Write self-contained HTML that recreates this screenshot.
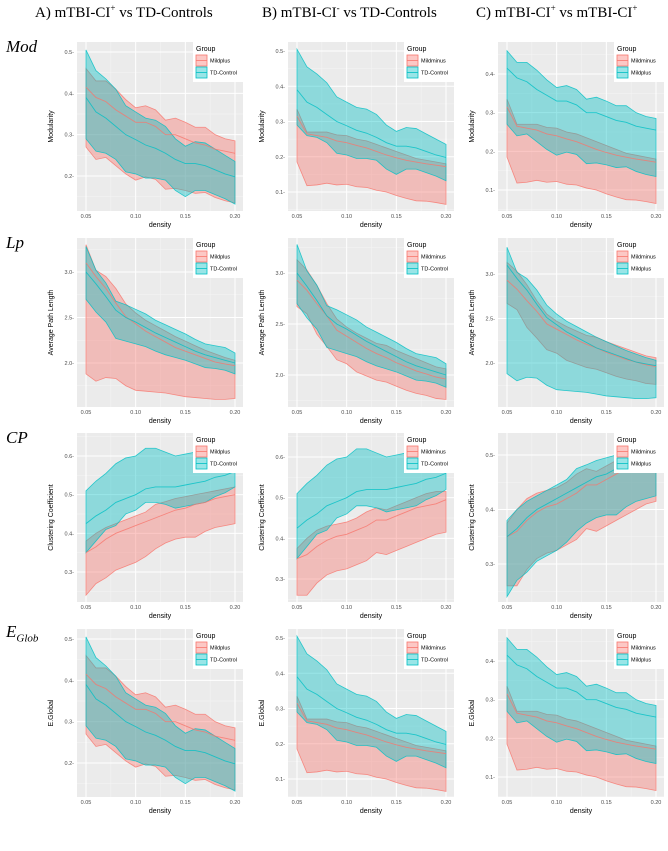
<!DOCTYPE html>
<html><head><meta charset="utf-8">
<style>
body{margin:0;background:#fff;width:668px;height:851px;overflow:hidden;font-family:"Liberation Sans",sans-serif;}
.hd{position:absolute;top:3px;font-family:"Liberation Serif",serif;font-size:15px;color:#000;white-space:nowrap}
.rl{position:absolute;left:6px;font-family:"Liberation Serif",serif;font-style:italic;font-size:17px;color:#000}
svg{position:absolute;left:0;top:0}
</style></head><body>
<div class="hd" style="left:35px">A) mTBI-CI<sup style="font-size:9px">+</sup> vs TD-Controls</div>
<div class="hd" style="left:262px">B) mTBI-CI<sup style="font-size:9px">-</sup> vs TD-Controls</div>
<div class="hd" style="left:476px">C) mTBI-CI<sup style="font-size:9px">+</sup> vs mTBI-CI<sup style="font-size:9px">+</sup></div>
<div class="rl" style="top:37px">Mod</div>
<div class="rl" style="top:233px">Lp</div>
<div class="rl" style="top:428px">CP</div>
<div class="rl" style="top:622px">E<sub style="font-size:11px">Glob</sub></div>
<svg id="fig" width="668" height="851"></svg>
<script>
const densities=[0.05,0.06,0.07,0.08,0.09,0.10,0.11,0.12,0.13,0.14,0.15,0.16,0.17,0.18,0.19,0.20];
const xTicks=[0.05,0.10,0.15,0.20];
const xTickLabels=["0.05","0.10","0.15","0.20"];
// Modularity / E.Global
const modPlusUp=[.46,.43,.43,.41,.385,.365,.37,.36,.335,.34,.33,.318,.318,.30,.29,.285];
const modPlusMean=[.415,.39,.38,.36,.345,.33,.33,.32,.30,.30,.29,.28,.275,.265,.26,.255];
const modPlusLo=[.27,.24,.245,.225,.205,.19,.198,.192,.168,.17,.165,.158,.16,.148,.14,.135];
const modTdUp=[.505,.455,.435,.41,.37,.355,.34,.335,.32,.29,.272,.283,.28,.265,.25,.235];
const modTdMean=[.39,.355,.34,.32,.30,.288,.275,.267,.255,.24,.23,.23,.225,.215,.205,.198];
const modTdLo=[.29,.26,.255,.24,.21,.205,.195,.195,.19,.165,.15,.165,.165,.155,.145,.132];
const modMinUp=[.335,.27,.27,.27,.262,.26,.25,.245,.235,.225,.215,.205,.195,.19,.185,.18];
const modMinMean=[.315,.265,.26,.255,.245,.24,.232,.225,.215,.205,.197,.19,.185,.18,.176,.172];
const modMinLo=[.185,.118,.12,.125,.12,.122,.115,.113,.105,.10,.09,.082,.075,.074,.07,.065];
// Average path length
const lpPlusUp=[3.3,3.02,2.95,2.82,2.65,2.55,2.47,2.41,2.35,2.29,2.24,2.19,2.14,2.10,2.06,2.03];
const lpPlusMean=[3.1,2.95,2.82,2.66,2.51,2.43,2.35,2.29,2.23,2.17,2.13,2.09,2.05,2.01,1.99,1.97];
const lpPlusLo=[1.88,1.80,1.84,1.83,1.75,1.70,1.69,1.68,1.67,1.65,1.63,1.62,1.61,1.60,1.60,1.61];
const lpTdUp=[3.28,3.02,2.88,2.68,2.64,2.59,2.54,2.47,2.42,2.37,2.32,2.26,2.21,2.19,2.17,2.11];
const lpTdMean=[3.0,2.87,2.73,2.58,2.5,2.45,2.39,2.33,2.28,2.23,2.18,2.13,2.09,2.06,2.03,2.0];
const lpTdLo=[2.7,2.56,2.45,2.27,2.24,2.21,2.18,2.13,2.09,2.06,2.03,1.99,1.95,1.94,1.92,1.88];
const lpMinUp=[3.13,3.03,2.88,2.7,2.55,2.47,2.41,2.36,2.31,2.29,2.24,2.2,2.16,2.12,2.08,2.06];
const lpMinMean=[2.93,2.83,2.7,2.58,2.44,2.38,2.32,2.26,2.21,2.17,2.12,2.08,2.04,2.01,1.98,1.96];
const lpMinLo=[2.67,2.6,2.4,2.28,2.15,2.11,2.03,1.99,1.95,1.93,1.89,1.85,1.82,1.8,1.77,1.76];
// Clustering coefficient
const cpPlusUp=[.38,.40,.415,.425,.435,.445,.455,.475,.482,.49,.495,.50,.505,.51,.515,.52];
const cpPlusMean=[.35,.365,.385,.40,.41,.42,.43,.44,.45,.46,.465,.475,.48,.49,.495,.50];
const cpPlusLo=[.24,.27,.285,.305,.315,.325,.34,.36,.375,.385,.39,.39,.405,.415,.42,.425];
const cpTdUp=[.51,.535,.555,.58,.595,.60,.62,.62,.61,.60,.605,.61,.615,.62,.62,.62];
const cpTdMean=[.425,.445,.46,.48,.49,.50,.515,.52,.52,.52,.525,.53,.535,.545,.55,.56];
const cpTdLo=[.35,.38,.41,.42,.45,.46,.48,.48,.475,.465,.47,.475,.48,.495,.505,.52];
const cpMinUp=[.375,.40,.42,.43,.435,.44,.45,.465,.475,.47,.48,.49,.50,.51,.515,.515];
const cpMinMean=[.35,.36,.38,.395,.405,.41,.42,.43,.445,.445,.455,.465,.475,.48,.485,.495];
const cpMinLo=[.26,.26,.29,.31,.32,.325,.335,.345,.365,.36,.37,.38,.39,.40,.41,.415];

const RED="#F8766D",CYAN="#00BFC4";
const colX=[[77,243],[288,454],[498,664]];
const rowY=[[42,211],[238,407],[433,602],[629,797]];
const rowTitles=["Modularity","Average Path Length","Clustering Coefficient","E.Global"];
const legendNames=[["Mildplus","TD-Control"],["Mildminus","TD-Control"],["Mildminus","Mildplus"]];
// y calibration: [v1,py1,v2,py2,ticks]
const yCal=[
 [[.5,52,.2,176,[.2,.3,.4,.5]],[.5,51,.1,192,[.1,.2,.3,.4,.5]],[.4,74,.1,190,[.1,.2,.3,.4]]],
 [[3,272,2,363,[2,2.5,3]],[3,273,2,375,[2,2.5,3]],[3,274,2,363,[2,2.5,3]]],
 [[.6,456,.3,572,[.3,.4,.5,.6]],[.6,457,.3,579,[.3,.4,.5,.6]],[.5,455,.3,564,[.3,.4,.5]]],
 [[.5,639,.2,763,[.2,.3,.4,.5]],[.5,638,.1,779,[.1,.2,.3,.4,.5]],[.4,661,.1,777,[.1,.2,.3,.4]]]
];
const M={up:[modPlusUp,modTdUp,modMinUp],mean:[modPlusMean,modTdMean,modMinMean],lo:[modPlusLo,modTdLo,modMinLo]};
function grp(u,m,l){return {u:u,m:m,l:l};}
const mod={plus:grp(modPlusUp,modPlusMean,modPlusLo),td:grp(modTdUp,modTdMean,modTdLo),min:grp(modMinUp,modMinMean,modMinLo)};
const lp={plus:grp(lpPlusUp,lpPlusMean,lpPlusLo),td:grp(lpTdUp,lpTdMean,lpTdLo),min:grp(lpMinUp,lpMinMean,lpMinLo)};
const cp={plus:grp(cpPlusUp,cpPlusMean,cpPlusLo),td:grp(cpTdUp,cpTdMean,cpTdLo),min:grp(cpMinUp,cpMinMean,cpMinLo)};
const rowData=[mod,lp,cp,mod];
const colGroups=[["plus","td"],["min","td"],["min","plus"]];

const NS="http://www.w3.org/2000/svg";
const svg=document.getElementById("fig");
function mk(tag,attrs,parent){const e=document.createElementNS(NS,tag);for(const k in attrs)e.setAttribute(k,attrs[k]);(parent||svg).appendChild(e);return e;}
function fmt(v,r){return r===1?v.toFixed(1):v.toFixed(1);}

for(let r=0;r<4;r++)for(let c=0;c<3;c++){
 const [x0,x1]=colX[c],[y0,y1]=rowY[r];
 const cal=yCal[r][c];
 const ys=v=>cal[1]+(v-cal[0])*(cal[3]-cal[1])/(cal[2]-cal[0]);
 const xs=d=>(x0+9)+(d-0.05)*((x1-8)-(x0+9))/0.15;
 const g=mk("g",{});
 
 
 const cp0=mk("clipPath",{id:"cl"+r+c},g);mk("rect",{x:x0,y:y0,width:x1-x0,height:y1-y0},cp0);
 const bg=mk("rect",{x:x0,y:y0,width:x1-x0,height:y1-y0,fill:"#EBEBEB"},g);
 
 // minor grid
 const tk=cal[4];const step=tk[1]-tk[0];
 for(let i=-1;i<tk.length;i++){const v=tk[0]+step*(i+0.5);const py=ys(v);if(py>y0&&py<y1)mk("line",{x1:x0,x2:x1,y1:py,y2:py,stroke:"#F5F5F5","stroke-width":0.5},g);}
 [0.075,0.125,0.175].forEach(d=>mk("line",{x1:xs(d),x2:xs(d),y1:y0,y2:y1,stroke:"#F5F5F5","stroke-width":0.5},g));
 tk.forEach(v=>{const py=ys(v);mk("line",{x1:x0,x2:x1,y1:py,y2:py,stroke:"#fff","stroke-width":1},g);
  const t=mk("text",{x:x0-3,y:py+2,"text-anchor":"end","font-size":5.5,fill:"#4D4D4D"},g);t.textContent=fmt(v)+"-";
  });
 xTicks.forEach((d,i)=>{const px=xs(d);mk("line",{x1:px,x2:px,y1:y0,y2:y1,stroke:"#fff","stroke-width":1},g);
  const t=mk("text",{x:px,y:y1+7,"text-anchor":"middle","font-size":5.5,fill:"#4D4D4D"},g);t.textContent=xTickLabels[i];
  });
 const xt=mk("text",{x:(x0+x1)/2,y:y1+16,"text-anchor":"middle","font-size":7,fill:"#000"},g);xt.textContent="density";
 
 const yx=x0-24,yy=(y0+y1)/2;
 const yt=mk("text",{x:yx,y:yy,"text-anchor":"middle","font-size":7,fill:"#000",transform:"rotate(-90 "+yx+" "+yy+")"},g);yt.textContent=rowTitles[r];
 
 const pg=mk("g",{"clip-path":"url(#cl"+r+c+")"},g);
 const cols=[RED,CYAN];
 colGroups[c].forEach((key,gi)=>{
  const d=rowData[r][key];
  let pts=densities.map((x,i)=>xs(x)+","+ys(d.u[i]));
  let pts2=densities.map((x,i)=>xs(x)+","+ys(d.l[i])).reverse();
  const rib=mk("polygon",{points:pts.concat(pts2).join(" "),fill:cols[gi],"fill-opacity":0.4,stroke:cols[gi],"stroke-width":0.8,"stroke-opacity":0.8},pg);
  
 });
 colGroups[c].forEach((key,gi)=>{
  const d=rowData[r][key];
  const ln=mk("polyline",{points:densities.map((x,i)=>xs(x)+","+ys(d.m[i])).join(" "),fill:"none",stroke:cols[gi],"stroke-width":0.9,"stroke-opacity":0.8},pg);
  
 });
 // legend
 const lg=mk("g",{},g);
 
 const lx=x1-50,ly=y0;
 mk("rect",{x:lx,y:ly,width:52,height:40,fill:"#fff"},lg);
 const gt=mk("text",{x:lx+3,y:ly+9,"font-size":7,fill:"#000"},lg);gt.textContent="Group";
 legendNames[c].forEach((n,i)=>{
  const ky=ly+13+i*12;
  mk("rect",{x:lx+3,y:ky,width:11,height:11,fill:cols[i],"fill-opacity":0.4,stroke:cols[i],"stroke-width":0.8},lg);
  mk("line",{x1:lx+3,x2:lx+14,y1:ky+5.5,y2:ky+5.5,stroke:cols[i],"stroke-width":0.8},lg);
  const t=mk("text",{x:lx+17,y:ky+7.5,"font-size":5.5,fill:"#000"},lg);t.textContent=n;
  
 });
}
</script>
</body></html>
